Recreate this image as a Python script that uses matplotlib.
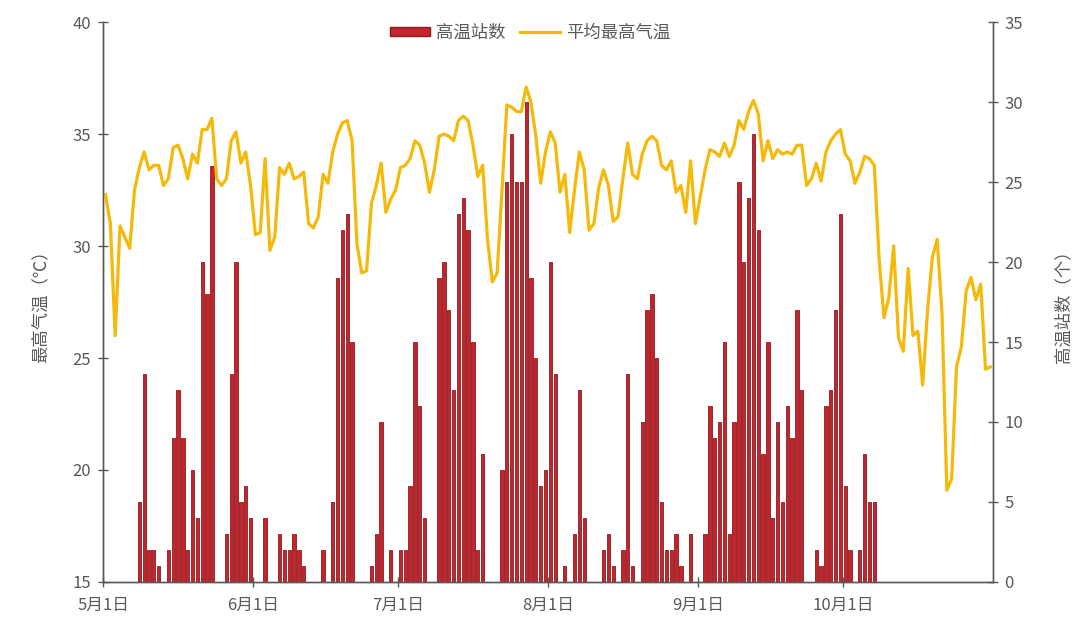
import numpy as np
import matplotlib.pyplot as plt
from matplotlib.patches import Patch
from matplotlib.lines import Line2D

plt.rcParams['font.family'] = ['Noto Sans CJK SC', 'DejaVu Sans']

# 高温站数 per day, May..Oct
may = [0, 0, 0, 0, 0, 0, 0, 5, 13, 2, 2, 1, 0, 2, 9, 12, 9, 2, 7, 4, 20, 18, 26, 0, 0, 3, 13, 20, 5, 6, 4]
jun = [0, 0, 4, 0, 0, 3, 2, 2, 3, 2, 1, 0, 0, 0, 2, 0, 5, 19, 22, 23, 15, 0, 0, 0, 1, 3, 10, 0, 2, 0]
jul = [2, 2, 6, 15, 11, 4, 0, 0, 19, 20, 17, 12, 23, 24, 22, 15, 2, 8, 0, 0, 0, 7, 25, 28, 25, 25, 30, 19, 14, 6, 7]
aug = [20, 13, 0, 1, 0, 3, 12, 4, 0, 0, 0, 2, 3, 1, 0, 2, 13, 1, 0, 10, 17, 18, 14, 5, 2, 2, 3, 1, 0, 3, 0]
sep = [0, 3, 11, 9, 10, 15, 3, 10, 25, 20, 24, 28, 22, 8, 15, 4, 10, 5, 11, 9, 17, 12, 0, 0, 2, 1, 11, 12, 17, 23]
oct_ = [6, 2, 0, 2, 8, 5, 5, 0, 0, 0, 0, 0, 0, 0, 0, 0, 0, 0, 0, 0, 0, 0, 0, 0, 0, 0, 0, 0, 0, 0, 0]

# 平均最高气温 per day
t_may = [32.3, 31.0, 26.0, 30.9, 30.4, 29.9, 32.5, 33.5, 34.2, 33.4, 33.6, 33.6, 32.7, 33.0, 34.4, 34.5,
         33.9, 33.0, 34.1, 33.7, 35.2, 35.2, 35.7, 33.0, 32.7, 33.0, 34.7, 35.1, 33.7, 34.2, 32.7]
t_jun = [30.5, 30.6, 33.9, 29.8, 30.4, 33.5, 33.2, 33.7, 33.0, 33.1, 33.3, 31.0, 30.8, 31.3, 33.2,
         32.8, 34.2, 35.0, 35.5, 35.6, 34.7, 30.1, 28.8, 28.9, 31.9, 32.7, 33.7, 31.5, 32.1, 32.5]
t_jul = [33.5, 33.6, 33.9, 34.7, 34.5, 33.7, 32.4, 33.4, 34.9, 35.0, 34.9, 34.7, 35.6, 35.8, 35.6, 34.5,
         33.1, 33.6, 30.3, 28.4, 28.8, 32.5, 36.3, 36.2, 36.0, 36.0, 37.1, 36.4, 34.9, 32.8, 34.2]
t_aug = [35.1, 34.6, 32.4, 33.2, 30.6, 32.5, 34.2, 33.4, 30.7, 31.0, 32.6, 33.4, 32.7, 31.1, 31.3, 33.0,
         34.6, 33.2, 33.0, 34.1, 34.7, 34.9, 34.7, 33.6, 33.4, 33.8, 32.4, 32.7, 31.5, 33.8, 31.0]
t_sep = [32.2, 33.4, 34.3, 34.2, 34.0, 34.6, 34.0, 34.5, 35.6, 35.2, 36.0, 36.5, 35.9, 33.8, 34.7,
         33.9, 34.3, 34.1, 34.2, 34.1, 34.5, 34.5, 32.7, 33.0, 33.7, 32.9, 34.2, 34.7, 35.0, 35.2]
t_oct = [34.1, 33.8, 32.8, 33.3, 34.0, 33.9, 33.6, 29.4, 26.8, 27.7, 30.0, 25.9, 25.3, 29.0, 26.0, 26.2,
         23.8, 27.1, 29.5, 30.3, 27.0, 19.1, 19.6, 24.6, 25.5, 28.0, 28.6, 27.6, 28.3, 24.5, 24.6]

month_labels = ['5月1日', '6月1日', '7月1日', '8月1日', '9月1日', '10月1日']

counts = np.array(may + jun + jul + aug + sep + oct_)
temps = np.array(t_may + t_jun + t_jul + t_aug + t_sep + t_oct)
month_len = [len(m) for m in (may, jun, jul, aug, sep, oct_)]
month_start = np.concatenate([[0], np.cumsum(month_len)[:-1]])
n_days = len(counts)
x = np.arange(n_days) + 0.5

bar_color = '#C4242B'
bar_edge = '#8E1B1F'
line_color = '#F5B90A'
text_color = '#595959'
axis_color = '#595959'

fig = plt.figure(figsize=(10.85, 6.2), dpi=100)
ax1 = fig.add_axes([0.095, 0.0613, 0.82, 0.9032])
ax2 = ax1.twinx()

ax2.bar(x[counts > 0], counts[counts > 0], width=0.68, color=bar_color,
        edgecolor=bar_edge, linewidth=0.6)
ax1.plot(x, temps, color=line_color, linewidth=2.3, solid_joinstyle='round')

ax1.set_zorder(ax2.get_zorder() + 1)
ax1.patch.set_visible(False)

ax1.set_xlim(0, n_days)
ax1.set_ylim(15, 40)
ax2.set_ylim(0, 35)
ax1.set_yticks(range(15, 41, 5))
ax2.set_yticks(range(0, 36, 5))
ax1.set_xticks(month_start)
ax1.set_xticklabels(month_labels)

for ax in (ax1, ax2):
    ax.spines['top'].set_visible(False)
    for s in ('left', 'right', 'bottom'):
        ax.spines[s].set_color(axis_color)
        ax.spines[s].set_linewidth(1.0)
    ax.tick_params(colors=axis_color, labelcolor=text_color, labelsize=12,
                   direction='inout', length=7, width=1.0)
ax1.tick_params(axis='x', pad=7)
ax1.tick_params(axis='y', pad=5)
ax2.tick_params(axis='y', pad=5)

ax1.set_ylabel('最高气温（℃）', fontsize=12.5, color=text_color, labelpad=16)
ax2.set_ylabel('高温站数（个）', fontsize=12.5, color=text_color, rotation=90, labelpad=22)

handles = [Patch(facecolor=bar_color, edgecolor=bar_edge),
           Line2D([0], [0], color=line_color, linewidth=2.3)]
ax1.legend(handles, ['高温站数', '平均最高气温'], loc='upper center', bbox_to_anchor=(0.48, 1.025),
           ncol=2, frameon=False, fontsize=12.5, labelcolor=text_color,
           handlelength=2.3, handleheight=0.45, handletextpad=0.35, columnspacing=0.8)

fig.savefig('out.png', dpi=100)
